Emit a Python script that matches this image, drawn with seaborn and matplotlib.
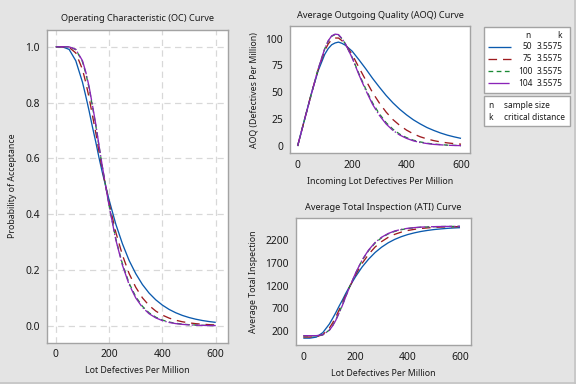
import numpy as np
import pandas as pd
import matplotlib
matplotlib.use("Agg")
import matplotlib.pyplot as plt
import seaborn as sns
from matplotlib.patches import Rectangle
from matplotlib.lines import Line2D

# ---------------- data ----------------
defects_ppm = [0, 25, 50, 75, 100, 112.5, 125, 137.5, 150, 162.5, 175, 200, 225, 250,
               275, 300, 325, 350, 375, 400, 425, 450, 475, 500, 525, 550, 575, 600]
sample_sizes = [50, 75, 100, 104]
critical_k = ["3.5575", "3.5575", "3.5575", "3.5575"]

pa_50 = [1.0, 0.9998, 0.9907, 0.9499, 0.8733, 0.8231, 0.770, 0.7125, 0.6586, 0.6007,
         0.5478, 0.4510, 0.3645, 0.2938, 0.2341, 0.1867, 0.1478, 0.1171, 0.0930,
         0.0739, 0.0586, 0.0466, 0.0370, 0.0295, 0.0235, 0.0188, 0.0151, 0.0121]
pa_75 = [1.0, 1.0, 0.9980, 0.9780, 0.9190, 0.8719, 0.8173, 0.7539, 0.6917, 0.6227,
         0.5585, 0.4401, 0.3356, 0.2533, 0.1871, 0.1378, 0.1001, 0.0726, 0.0527,
         0.0381, 0.0275, 0.0198, 0.0143, 0.0104, 0.0075, 0.0054, 0.0040, 0.0029]
pa_100 = [1.0, 1.0, 0.9996, 0.9900, 0.9468, 0.9051, 0.8520, 0.7861, 0.7184, 0.6409,
          0.5675, 0.4309, 0.3121, 0.2216, 0.1524, 0.1040, 0.0696, 0.0463, 0.0307,
          0.0203, 0.0133, 0.0088, 0.0058, 0.0038, 0.0025, 0.0016, 0.0011, 0.0007]
pa_104 = [1.0, 1.0, 0.9997, 0.9911, 0.9502, 0.9094, 0.8567, 0.7907, 0.7222, 0.6436,
          0.5688, 0.4296, 0.3086, 0.2170, 0.1477, 0.0996, 0.0658, 0.0431, 0.0283,
          0.0184, 0.0119, 0.0077, 0.0050, 0.0032, 0.0021, 0.0014, 0.0009, 0.0006]

aoq_50 = [0, 24.5, 48.5, 69.8, 85.6, 90.8, 94.3, 96.0, 96.8, 95.7, 93.9, 88.4, 80.4, 72.0,
          63.1, 54.9, 47.1, 40.2, 34.2, 29.0, 24.4, 20.6, 17.2, 14.5, 12.1, 10.1, 8.5, 7.1]
aoq_75 = [0, 24.3, 48.4, 71.1, 89.1, 95.2, 99.1, 100.6, 100.6, 98.2, 94.8, 85.4, 73.2, 61.4,
          49.9, 40.1, 31.6, 24.6, 19.2, 14.8, 11.3, 8.6, 6.6, 5.0, 3.8, 2.9, 2.2, 1.7]
aoq_100 = [0, 24.0, 48.0, 71.3, 90.9, 97.8, 102.2, 103.8, 103.4, 100.0, 95.3, 82.7, 67.4,
           53.2, 40.2, 30.0, 21.7, 15.6, 11.0, 7.8, 5.4, 3.8, 2.6, 1.8, 1.3, 0.8, 0.6, 0.4]
aoq_104 = [0, 24.0, 47.9, 71.2, 91.1, 98.1, 102.6, 104.2, 103.8, 100.2, 95.4, 82.3, 66.5,
           52.0, 38.9, 28.6, 20.5, 14.5, 10.2, 7.1, 4.8, 3.3, 2.3, 1.5, 1.1, 0.7, 0.5, 0.35]

ati_50 = [50, 50.5, 72.7, 172.7, 360.4, 483.4, 613.5, 754.4, 886, 1028.3, 1158, 1395, 1607,
          1780, 1926, 2043, 2138, 2213, 2272, 2319, 2356, 2386, 2409, 2428, 2442, 2454,
          2463, 2470]
ati_75 = [75, 75, 79.8, 128.4, 271.4, 385.6, 518, 671.8, 823, 989.9, 1146, 1433, 1686,
          1886, 2046, 2166, 2257, 2324, 2372, 2408, 2433, 2452, 2465, 2475, 2482, 2487,
          2490, 2493]
ati_100 = [100, 100, 101, 124.1, 227.7, 327.8, 455, 613.4, 776, 961.8, 1138, 1466, 1751,
           1968, 2134, 2250, 2333, 2389, 2426, 2451, 2468, 2479, 2486, 2491, 2494, 2496,
           2497, 2498]
ati_104 = [104, 104, 104.8, 125.3, 223.3, 321.1, 447, 605.5, 770, 958.0, 1137, 1471, 1761,
           1980, 2146, 2261, 2342, 2397, 2432, 2456, 2471, 2482, 2488, 2492, 2495, 2497,
           2498, 2499]

oc_xticks = [0, 200, 400, 600]
oc_yticks = [0.0, 0.2, 0.4, 0.6, 0.8, 1.0]
aoq_yticks = [0, 25, 50, 75, 100]
ati_yticks = [200, 700, 1200, 1700, 2200]

# ---------------- long table ----------------
pa_all = [pa_50, pa_75, pa_100, pa_104]
aoq_all = [aoq_50, aoq_75, aoq_100, aoq_104]
ati_all = [ati_50, ati_75, ati_100, ati_104]
rows = []
for n, pa, aoq, ati in zip(sample_sizes, pa_all, aoq_all, ati_all):
    for x, a, b, c in zip(defects_ppm, pa, aoq, ati):
        rows.append({"x": x, "n": n, "pa": a, "aoq": b, "ati": c})
df = pd.DataFrame(rows)

colors = {50: "#0B5AAE", 75: "#9E1B1F", 100: "#1B8A35", 104: "#8A23B8"}
dashes = {50: (1, 0), 75: (6.5, 4.5), 100: (3.6, 2.6), 104: (16, 1.6, 1.0, 1.6)}

BG = "#E4E4E4"
FRAME = "#A3A3A3"
TXT = "#1A1A1A"

sns.set_theme(style="white")
plt.rcParams['font.family'] = ['Noto Sans', 'DejaVu Sans']

W, H = 576, 384
fig = plt.figure(figsize=(W / 100, H / 100), dpi=100, facecolor=BG)


def px_axes(l, t, r, b):
    return fig.add_axes([l / W, 1 - b / H, (r - l) / W, (b - t) / H])


def style_axes(ax):
    ax.set_facecolor("white")
    for s in ax.spines.values():
        s.set_color(FRAME)
        s.set_linewidth(1.0)
    ax.tick_params(axis="both", direction="out", length=3, width=0.8,
                   color=FRAME, labelsize=7.4, labelcolor=TXT, pad=2)


def draw(ax, ycol):
    sns.lineplot(data=df, x="x", y=ycol, hue="n", style="n", palette=colors,
                 dashes=dashes, linewidth=0.95, legend=False, ax=ax)


TFS = 6.6
LFS = 6.3

# OC curve
ax1 = px_axes(47, 29.5, 228, 342.5)
style_axes(ax1)
ax1.grid(True, color="#D8D8D8", linestyle=(0, (5, 3.5)), linewidth=0.9)
ax1.set_axisbelow(True)
draw(ax1, "pa")
ax1.set_xlim(-33, 646)
ax1.set_ylim(-0.06, 1.062)
ax1.set_xticks(oc_xticks)
ax1.set_yticks(oc_yticks)
ax1.set_yticklabels([f"{v:.1f}" for v in oc_yticks])
ax1.set_title("Operating Characteristic (OC) Curve", fontsize=TFS, color=TXT, pad=6)
ax1.set_xlabel("Lot Defectives Per Million", fontsize=LFS, color=TXT, labelpad=4)
ax1.set_ylabel("Probability of Acceptance", fontsize=LFS, color=TXT, labelpad=6)

# AOQ curve
ax2 = px_axes(290, 26, 470, 153.3)
style_axes(ax2)
draw(ax2, "aoq")
ax2.set_xlim(-28, 633)
ax2.set_ylim(-6.8, 111.8)
ax2.set_xticks(oc_xticks)
ax2.set_yticks(aoq_yticks)
ax2.set_title("Average Outgoing Quality (AOQ) Curve", fontsize=TFS, color=TXT, pad=6)
ax2.set_xlabel("Incoming Lot Defectives Per Million", fontsize=LFS, color=TXT, labelpad=4)
ax2.set_ylabel("AOQ (Defectives Per Million)", fontsize=LFS, color=TXT, labelpad=5)

# ATI curve
ax3 = px_axes(295.7, 218.3, 470.7, 345)
style_axes(ax3)
draw(ax3, "ati")
ax3.set_xlim(-29, 641)
ax3.set_ylim(-100, 2675)
ax3.set_xticks(oc_xticks)
ax3.set_yticks(ati_yticks)
ax3.set_title("Average Total Inspection (ATI) Curve", fontsize=TFS, color=TXT, pad=6)
ax3.set_xlabel("Lot Defectives Per Million", fontsize=LFS, color=TXT, labelpad=4)
ax3.set_ylabel("Average Total Inspection", fontsize=LFS, color=TXT, labelpad=5)

# ---------------- legend boxes ----------------
def fx(x):
    return x / W


def fy(y):
    return 1 - y / H


for (l, t, r, b) in [(483.5, 27.5, 569.5, 92.5), (483.5, 96.5, 569.5, 125.5)]:
    fig.patches.append(Rectangle((fx(l), fy(b)), (r - l) / W, (b - t) / H,
                                 transform=fig.transFigure, facecolor="white",
                                 edgecolor=FRAME, linewidth=1.0))

LEG = 6.0
fig.text(fx(528), fy(35.7), "n", fontsize=LEG, ha="center", va="center", color=TXT)
fig.text(fx(559.5), fy(35.7), "k", fontsize=LEG, ha="center", va="center", color=TXT)
row_y = [46.5, 58.7, 71.0, 83.3]
for n, kv, yy in zip(sample_sizes, critical_k, row_y):
    fig.lines.append(Line2D([fx(487.5), fx(511)], [fy(yy), fy(yy)],
                            transform=fig.transFigure, color=colors[n],
                            linewidth=0.95, dashes=dashes[n]))
    fig.text(fx(532.5), fy(yy), str(n), fontsize=LEG, ha="right", va="center", color=TXT)
    fig.text(fx(562.5), fy(yy), kv, fontsize=LEG, ha="right", va="center", color=TXT)

fig.text(fx(488), fy(105), "n", fontsize=LEG, ha="left", va="center", color=TXT)
fig.text(fx(503.5), fy(105), "sample size", fontsize=LEG, ha="left", va="center", color=TXT)
fig.text(fx(488), fy(117.3), "k", fontsize=LEG, ha="left", va="center", color=TXT)
fig.text(fx(503.5), fy(117.3), "critical distance", fontsize=LEG, ha="left", va="center", color=TXT)

# outer border (right / bottom)
fig.lines.append(Line2D([fx(575.3), fx(575.3)], [0, 1], transform=fig.transFigure,
                        color="#C4C4C4", linewidth=1.2))
fig.lines.append(Line2D([0, 1], [fy(383.3), fy(383.3)], transform=fig.transFigure,
                        color="#C4C4C4", linewidth=1.2))

fig.savefig("out.png", dpi=100, facecolor=BG)
